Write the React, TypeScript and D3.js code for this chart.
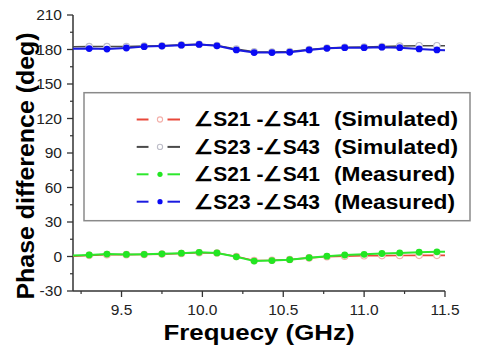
import React from "react";
import * as d3 from "d3";

// Line frequencies (GHz): first and last entries are line ends without markers
const freq = [9.2, 9.30, 9.41, 9.53, 9.64, 9.75, 9.87, 9.98, 10.09, 10.21, 10.32, 10.43, 10.54, 10.66, 10.77, 10.88, 11.00, 11.11, 11.22, 11.34, 11.45, 11.5];

const s21s41Sim = [0.2, 1.0, 1.6, 1.6, 1.8, 2.1, 2.6, 3.3, 3.0, 0.0, -3.5, -3.3, -2.6, -1.2, -0.2, 0.3, 0.6, 0.8, 0.9, 1.0, 1.0, 1.0];
const s23s43Sim = [182.4, 182.6, 182.6, 182.6, 183.0, 183.3, 184.0, 184.5, 183.5, 180.5, 178.0, 177.8, 178.3, 180.0, 181.3, 182.0, 182.2, 182.5, 183.0, 183.3, 183.3, 183.3];
const s21s41Meas = [0.8, 1.4, 2.1, 1.8, 1.9, 2.3, 2.9, 3.6, 3.1, -0.3, -4.0, -3.5, -2.8, -1.1, 0.3, 1.3, 1.9, 2.6, 3.1, 3.7, 4.1, 4.2];
const s23s43Meas = [180.7, 180.8, 180.4, 181.3, 182.5, 183.0, 183.8, 184.4, 183.2, 179.6, 177.3, 177.3, 177.6, 179.6, 181.0, 181.6, 181.6, 182.0, 181.6, 180.5, 179.6, 179.3];

const yTicks = [-30, 0, 30, 60, 90, 120, 150, 180, 210];
const yMinor = [-15, 15, 45, 75, 105, 135, 165, 195];
const xTicks = [9.5, 10.0, 10.5, 11.0, 11.5];
const xMinor = [9.25, 9.75, 10.25, 10.75, 11.25];

const legendLabels = ["\u2220S21 -\u2220S41", "\u2220S23 -\u2220S43", "\u2220S21 -\u2220S41", "\u2220S23 -\u2220S43"];
const legendNotes = ["(Simulated)", "(Simulated)", "(Measured)", "(Measured)"];

const series = [
  { values: s21s41Sim, line: "#e8483a", marker: "#f3b0aa", filled: false, width: 1.6 },
  { values: s23s43Sim, line: "#4a4a4a", marker: "#bdbdc8", filled: false, width: 1.6 },
  { values: s21s41Meas, line: "#2de82d", marker: "#22e622", filled: true, width: 2 },
  { values: s23s43Meas, line: "#1a1ae0", marker: "#0a0af5", filled: true, width: 2 },
];

const font = "'Liberation Sans', Arial, sans-serif";

export default function App() {
  const x = d3.scaleLinear().domain([9.2, 11.5]).range([73, 445]);
  const y = d3.scaleLinear().domain([-30, 210]).range([291, 15]);
  const line = d3
    .line<number>()
    .x((_, i) => x(freq[i]))
    .y((d) => y(d))
    .curve(d3.curveLinear);

  const axisColor = "#333";

  return (
    <svg width={477} height={348} style={{ position: "absolute", left: 0, top: 0 }} fontFamily={font}>
      <rect x={0} y={0} width={477} height={348} fill="#fff" />
      {/* axes */}
      <line x1={73} x2={73} y1={y(210)} y2={y(-30)} stroke={axisColor} strokeWidth={1.5} />
      <line x1={73} x2={x(11.5)} y1={291} y2={291} stroke={axisColor} strokeWidth={1.5} />
      {yTicks.map((t) => (
        <g key={"y" + t}>
          <line x1={67} x2={73} y1={y(t)} y2={y(t)} stroke={axisColor} strokeWidth={1.3} />
          <text x={62} y={y(t) + 5.4} textAnchor="end" fontSize={15.5} fill="#222">
            {t}
          </text>
        </g>
      ))}
      {yMinor.map((t) => (
        <line key={"ym" + t} x1={70} x2={73} y1={y(t)} y2={y(t)} stroke={axisColor} strokeWidth={1.2} />
      ))}
      {xTicks.map((t) => (
        <g key={"x" + t}>
          <line x1={x(t)} x2={x(t)} y1={291} y2={297} stroke={axisColor} strokeWidth={1.3} />
          <text x={x(t)} y={315} textAnchor="middle" fontSize={15.5} fill="#222">
            {t.toFixed(1)}
          </text>
        </g>
      ))}
      {xMinor.map((t) => (
        <line key={"xm" + t} x1={x(t)} x2={x(t)} y1={291} y2={294} stroke={axisColor} strokeWidth={1.2} />
      ))}
      {/* titles */}
      <text x={259} y={340} textAnchor="middle" fontSize={22} fontWeight="bold" textLength={191} lengthAdjust="spacingAndGlyphs">
        Frequecy (GHz)
      </text>
      <text
        transform="translate(34,166) rotate(-90)"
        textAnchor="middle"
        fontSize={24.5}
        fontWeight="bold"
        textLength={267}
        lengthAdjust="spacingAndGlyphs"
      >
        Phase difference (deg)
      </text>
      {/* series */}
      {series.map((s, k) => (
        <g key={"s" + k}>
          <path d={line(s.values) || ""} fill="none" stroke={s.line} strokeWidth={s.width} />
          {s.values.map((v, i) =>
            i === 0 || i === s.values.length - 1 ? null : (
              <circle
                key={i}
                cx={x(freq[i])}
                cy={y(v)}
                r={s.filled ? 3.4 : 3.2}
                fill={s.filled ? s.marker : "#fff"}
                stroke={s.marker}
                strokeWidth={s.filled ? 0 : 1.2}
              />
            )
          )}
        </g>
      ))}
      {/* legend */}
      <rect x={84} y={92.7} width={386} height={128} fill="#fff" stroke="#8a8a8a" strokeWidth={1.5} />
      {series.map((s, k) => {
        const cy = 119.5 + k * 27.4;
        return (
          <g key={"l" + k}>
            <line x1={136.7} x2={148.5} y1={cy} y2={cy} stroke={s.line} strokeWidth={2} />
            <line x1={167.5} x2={180} y1={cy} y2={cy} stroke={s.line} strokeWidth={2} />
            <circle
              cx={160}
              cy={cy}
              r={2.6}
              fill={s.filled ? s.marker : "#fff"}
              stroke={s.marker}
              strokeWidth={s.filled ? 0 : 1.1}
            />
            <text x={194} y={cy + 6.8} fontSize={19.5} fontWeight="bold" textLength={126} lengthAdjust="spacingAndGlyphs">
              {legendLabels[k]}
            </text>
            <text
              x={334}
              y={cy + 6.8}
              fontSize={19.5}
              fontWeight="bold"
              textLength={k < 2 ? 124 : 121}
              lengthAdjust="spacingAndGlyphs"
            >
              {legendNotes[k]}
            </text>
          </g>
        );
      })}
    </svg>
  );
}
